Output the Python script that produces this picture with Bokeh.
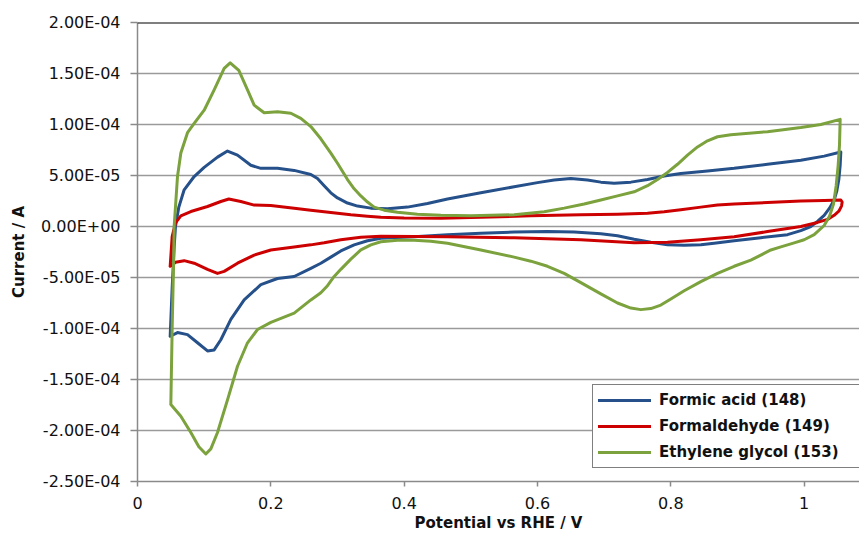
from bokeh.plotting import figure
from bokeh.models import Span, Legend, LegendItem, FixedTicker, CustomJSTickFormatter, Range1d
from bokeh.embed import file_html
from bokeh.resources import INLINE

# ---------------- data ----------------
series_names = ["Formic acid (148)", "Formaldehyde (149)", "Ethylene glycol (153)"]
series_colors = ["#25508a", "#cc0000", "#7ba23d"]

x_ticks = [0, 0.2, 0.4, 0.6, 0.8, 1.0]
y_ticks = [-2.5e-4, -2.0e-4, -1.5e-4, -1.0e-4, -5.0e-5, 0.0, 5.0e-5, 1.0e-4, 1.5e-4, 2.0e-4]

# Formic acid: anodic sweep then cathodic sweep (potential V, current A)
fa_x = [0.049, 0.052, 0.055, 0.057, 0.062, 0.070, 0.085, 0.100, 0.120, 0.135, 0.150, 0.170,
        0.185, 0.210, 0.235, 0.260, 0.270, 0.280, 0.290, 0.300, 0.315, 0.330, 0.350, 0.375,
        0.405, 0.435, 0.465, 0.515, 0.565, 0.600, 0.625, 0.650, 0.675, 0.695, 0.715, 0.740,
        0.765, 0.790, 0.815, 0.855, 0.895, 0.945, 0.995, 1.030, 1.055,
        1.054, 1.052, 1.049, 1.045, 1.038, 1.030, 1.020, 1.010, 0.995, 0.975, 0.935, 0.895,
        0.865, 0.845, 0.820, 0.795, 0.770, 0.745, 0.720, 0.695, 0.655, 0.615, 0.565, 0.515,
        0.465, 0.415, 0.365, 0.345, 0.325, 0.305, 0.290, 0.275, 0.260, 0.235, 0.210, 0.185,
        0.160, 0.140, 0.125, 0.115, 0.105, 0.090, 0.075, 0.060, 0.049]
fa_y = [-1.076e-4, -6.0e-5, -2.0e-5, 0.0, 1.9e-5, 3.6e-5, 4.9e-5, 5.8e-5, 6.8e-5, 7.4e-5, 7.0e-5, 6.0e-5,
        5.7e-5, 5.7e-5, 5.5e-5, 5.1e-5, 4.7e-5, 4.0e-5, 3.3e-5, 2.8e-5, 2.3e-5, 2.0e-5, 1.8e-5, 1.75e-5,
        1.9e-5, 2.25e-5, 2.7e-5, 3.3e-5, 3.9e-5, 4.3e-5, 4.55e-5, 4.7e-5, 4.55e-5, 4.35e-5, 4.25e-5, 4.35e-5,
        4.6e-5, 4.95e-5, 5.2e-5, 5.45e-5, 5.7e-5, 6.1e-5, 6.5e-5, 6.9e-5, 7.3e-5,
        6.0e-5, 4.6e-5, 3.5e-5, 2.6e-5, 1.8e-5, 1.1e-5, 5.0e-6, 0.0, -4.0e-6, -8.0e-6, -1.1e-5, -1.4e-5,
        -1.65e-5, -1.8e-5, -1.85e-5, -1.8e-5, -1.55e-5, -1.25e-5, -9.0e-6, -7.0e-6, -5.5e-6, -5.0e-6, -5.5e-6, -6.5e-6,
        -8.0e-6, -1.0e-5, -1.15e-5, -1.4e-5, -1.8e-5, -2.4e-5, -3.0e-5, -3.6e-5, -4.1e-5, -4.9e-5, -5.1e-5, -5.7e-5,
        -7.2e-5, -9.1e-5, -1.11e-4, -1.21e-4, -1.22e-4, -1.14e-4, -1.06e-4, -1.04e-4, -1.076e-4]

# Formaldehyde
fd_x = [0.049, 0.052, 0.057, 0.065, 0.080, 0.105, 0.125, 0.137, 0.155, 0.175, 0.200, 0.235,
        0.260, 0.280, 0.300, 0.320, 0.345, 0.365, 0.400, 0.455, 0.515, 0.590, 0.665, 0.720,
        0.765, 0.790, 0.815, 0.845, 0.870, 0.895, 0.945, 0.995, 1.030, 1.055,
        1.057, 1.056, 1.052, 1.045, 1.035, 1.020, 0.995, 0.970, 0.945, 0.895, 0.845, 0.795,
        0.745, 0.665, 0.565, 0.465, 0.365, 0.335, 0.305, 0.280, 0.260, 0.235, 0.200, 0.175,
        0.150, 0.130, 0.120, 0.105, 0.085, 0.070, 0.057, 0.049]
fd_y = [-3.9e-5, -1.0e-5, 3.6e-6, 1.05e-5, 1.47e-5, 1.96e-5, 2.45e-5, 2.7e-5, 2.45e-5, 2.1e-5, 2.05e-5, 1.8e-5,
        1.6e-5, 1.45e-5, 1.3e-5, 1.15e-5, 1.0e-5, 9.0e-6, 8.3e-6, 8.0e-6, 9.0e-6, 1.05e-5, 1.15e-5, 1.2e-5,
        1.3e-5, 1.45e-5, 1.65e-5, 1.9e-5, 2.1e-5, 2.2e-5, 2.35e-5, 2.5e-5, 2.55e-5, 2.6e-5,
        2.4e-5, 2.0e-5, 1.5e-5, 1.1e-5, 7.0e-6, 4.0e-6, 0.0, -2.5e-6, -5.0e-6, -1.0e-5, -1.3e-5, -1.55e-5,
        -1.6e-5, -1.3e-5, -1.1e-5, -1.0e-5, -9.5e-6, -1.05e-5, -1.3e-5, -1.6e-5, -1.8e-5, -2.0e-5, -2.3e-5, -2.8e-5,
        -3.6e-5, -4.4e-5, -4.6e-5, -4.2e-5, -3.6e-5, -3.35e-5, -3.5e-5, -3.9e-5]

# Ethylene glycol
eg_x = [0.050, 0.052, 0.054, 0.055, 0.060, 0.065, 0.075, 0.085, 0.100, 0.115, 0.130, 0.139,
        0.152, 0.165, 0.175, 0.190, 0.210, 0.230, 0.245, 0.260, 0.275, 0.290, 0.300, 0.315,
        0.325, 0.335, 0.345, 0.355, 0.370, 0.390, 0.420, 0.455, 0.500, 0.565, 0.610, 0.640,
        0.670, 0.695, 0.720, 0.745, 0.765, 0.780, 0.795, 0.810, 0.825, 0.840, 0.855, 0.870,
        0.890, 0.945, 0.995, 1.025, 1.054,
        1.053, 1.051, 1.048, 1.044, 1.038, 1.030, 1.015, 1.000, 0.985, 0.965, 0.950, 0.920,
        0.895, 0.870, 0.845, 0.820, 0.800, 0.785, 0.770, 0.755, 0.740, 0.720, 0.695, 0.665,
        0.640, 0.615, 0.590, 0.565, 0.515, 0.465, 0.440, 0.415, 0.390, 0.365, 0.350, 0.335,
        0.320, 0.305, 0.295, 0.285, 0.275, 0.260, 0.235, 0.200, 0.180, 0.165, 0.150, 0.135,
        0.120, 0.110, 0.1025, 0.092, 0.080, 0.065, 0.050]
eg_y = [-1.745e-4, -1.0e-4, -4.0e-5, 0.0, 4.9e-5, 7.2e-5, 9.2e-5, 1.01e-4, 1.14e-4, 1.34e-4, 1.55e-4, 1.605e-4,
        1.53e-4, 1.34e-4, 1.19e-4, 1.115e-4, 1.125e-4, 1.11e-4, 1.06e-4, 9.8e-5, 8.6e-5, 7.2e-5, 6.2e-5, 4.6e-5,
        3.7e-5, 3.0e-5, 2.4e-5, 1.9e-5, 1.6e-5, 1.4e-5, 1.2e-5, 1.1e-5, 1.05e-5, 1.15e-5, 1.45e-5, 1.8e-5,
        2.2e-5, 2.6e-5, 3.0e-5, 3.4e-5, 4.0e-5, 4.6e-5, 5.3e-5, 6.1e-5, 7.0e-5, 7.8e-5, 8.4e-5, 8.8e-5,
        9.0e-5, 9.3e-5, 9.7e-5, 1.0e-4, 1.05e-4,
        8.0e-5, 6.0e-5, 4.0e-5, 2.2e-5, 1.0e-5, 1.0e-6, -8.0e-6, -1.3e-5, -1.6e-5, -2.0e-5, -2.3e-5, -3.3e-5,
        -3.9e-5, -4.6e-5, -5.4e-5, -6.3e-5, -7.1e-5, -7.7e-5, -8.05e-5, -8.15e-5, -8.0e-5, -7.5e-5, -6.6e-5, -5.5e-5,
        -4.6e-5, -3.9e-5, -3.4e-5, -3.0e-5, -2.3e-5, -1.65e-5, -1.45e-5, -1.35e-5, -1.35e-5, -1.5e-5, -1.8e-5, -2.3e-5,
        -3.2e-5, -4.2e-5, -4.9e-5, -5.8e-5, -6.5e-5, -7.2e-5, -8.5e-5, -9.4e-5, -1.01e-4, -1.14e-4, -1.37e-4, -1.7e-4,
        -2.02e-4, -2.18e-4, -2.23e-4, -2.16e-4, -2.02e-4, -1.86e-4, -1.745e-4]

series_x = [fa_x, fd_x, eg_x]
series_y = [fa_y, fd_y, eg_y]

# ---------------- figure ----------------
FONT = "DejaVu Sans"
p = figure(width=859, height=537, output_backend="svg", toolbar_location=None,
           x_range=Range1d(0, 1.083), y_range=Range1d(-2.5e-4, 2.0e-4),
           min_border_left=137, min_border_right=0, min_border_top=22, min_border_bottom=56)
p.outline_line_color = None
p.background_fill_color = "white"
p.border_fill_color = "white"

renderers = []
for xs, ys, c in zip(series_x, series_y, series_colors):
    r = p.line(xs, ys, line_color=c, line_width=3, line_join="round", line_cap="round")
    renderers.append(r)

# grid
p.xgrid.visible = False
p.ygrid.ticker = FixedTicker(ticks=y_ticks)
p.ygrid.grid_line_color = "#9a9a9a"
p.ygrid.grid_line_width = 1.5

# top border line (black)
p.add_layout(Span(location=y_ticks[-1], dimension="width", line_color="black", line_width=2))

# axes
p.xaxis.ticker = FixedTicker(ticks=x_ticks)
p.xaxis.formatter = CustomJSTickFormatter(code="return String(Number(tick.toFixed(1)));")
p.yaxis.ticker = FixedTicker(ticks=y_ticks)
p.yaxis.formatter = CustomJSTickFormatter(code="""
const s = tick.toExponential(2).toUpperCase();
const parts = s.split('E');
const sign = parts[1][0];
let d = parts[1].slice(1);
if (d.length < 2) { d = '0' + d; }
return parts[0] + 'E' + sign + d;
""")

for ax in (p.xaxis[0], p.yaxis[0]):
    ax.axis_line_color = "#8a8a8a"
    ax.axis_line_width = 1.5
    ax.major_tick_line_color = "#8a8a8a"
    ax.major_tick_line_width = 1.5
    ax.minor_tick_line_color = None
    ax.major_tick_in = 0
    ax.major_label_text_font = FONT
    ax.major_label_text_font_size = "16px"
    ax.major_label_text_color = "#111111"
    ax.axis_label_text_font = FONT
    ax.axis_label_text_font_size = "15px"
    ax.axis_label_text_font_style = "bold"
    ax.axis_label_text_color = "#111111"

p.xaxis.axis_label = "Potential vs RHE / V"
p.yaxis.axis_label = "Current / A"
p.xaxis.major_tick_out = 5
p.yaxis.major_tick_out = 7
p.xaxis.major_label_standoff = 10
p.yaxis.major_label_standoff = 10
p.xaxis.axis_label_standoff = 2
p.yaxis.axis_label_standoff = 10

legend = Legend(items=[LegendItem(label=n, renderers=[r]) for n, r in zip(series_names, renderers)],
                location=(455, 13), margin=0, padding=5, spacing=6,
                glyph_width=53, glyph_height=20, label_height=20, label_width=195, label_standoff=8,
                border_line_color="black", border_line_width=1.5, background_fill_color="white",
                background_fill_alpha=1.0,
                label_text_font=FONT, label_text_font_size="15px", label_text_font_style="bold",
                label_text_color="#111111")
p.add_layout(legend, "center")

open("out.html", "w").write(file_html(p, INLINE))
